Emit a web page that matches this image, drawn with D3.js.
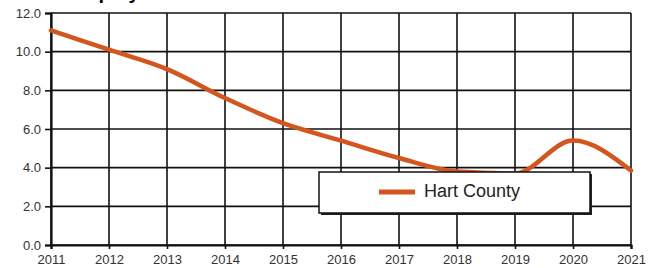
<!DOCTYPE html>
<html>
<head>
    <meta charset="utf-8">
    <style>
        body { margin: 0; background: #fff; }
        svg { display: block; font-family: 'Liberation Sans', Arial, sans-serif; }
    </style>
</head>
<body>
<svg width="652" height="268"></svg>
<script src="https://d3js.org/d3.v7.min.js"></script>
<script>
    // data
    let years = [2011, 2012, 2013, 2014, 2015, 2016, 2017, 2018, 2019, 2020, 2021]
    let hartCounty = [11.1, 10.1, 9.1, 7.6, 6.3, 5.4, 4.5, 3.8, 3.7, 5.4, 3.85]
    let yTicks = [0, 2, 4, 6, 8, 10, 12]
    let seriesName = "Hart County"

    let margin = { left: 51, right: 21, top: 13, bottom: 23 }
    let width = 652, height = 268

    let svg = d3.select("svg")

    let x = d3.scaleLinear()
        .domain([2011, 2021])
        .range([margin.left, width - margin.right])

    let y = d3.scaleLinear()
        .domain([0, 12])
        .range([height - margin.bottom, margin.top])

    // title, cut off at the top like in the source image
    svg.append("text")
        .attr("x", 43)
        .attr("y", -1)
        .style("font-weight", "bold")
        .style("font-size", "20px")
        .text("Unemployment Rate")

    // grid
    svg.append("g")
        .selectAll("line")
        .data(yTicks)
        .join("line")
        .attr("x1", margin.left)
        .attr("x2", width - margin.right)
        .attr("y1", d => y(d))
        .attr("y2", d => y(d))
        .style("stroke", "#111")
        .style("stroke-width", 1.6)

    svg.append("g")
        .selectAll("line")
        .data(years)
        .join("line")
        .attr("x1", d => x(d))
        .attr("x2", d => x(d))
        .attr("y1", y(0))
        .attr("y2", y(12))
        .style("stroke", "#111")
        .style("stroke-width", 1.6)

    // axes
    let yAxis = svg.append("g")
        .attr("transform", "translate(" + margin.left + ",0)")
        .call(d3.axisLeft(y).tickValues(yTicks).tickFormat(d3.format(".1f")).tickSize(6).tickPadding(4))
    let xAxis = svg.append("g")
        .attr("transform", "translate(0," + y(0) + ")")
        .call(d3.axisBottom(x).tickValues(years).tickFormat(d3.format("d")).tickSize(4).tickPadding(6))

    for (let ax of [yAxis, xAxis]) {
        ax.select(".domain").style("stroke", "#111").style("stroke-width", 2.2)
        ax.selectAll(".tick line").style("stroke", "#111").style("stroke-width", 1.6)
        ax.selectAll("text").style("font-size", "13px").style("fill", "#333")
            .style("font-family", "'Liberation Sans', Arial, sans-serif")
    }

    // series line
    let line = d3.line()
        .x((d, i) => x(years[i]))
        .y(d => y(d))
        .curve(d3.curveMonotoneX)

    svg.append("path")
        .datum(hartCounty)
        .attr("d", line)
        .style("fill", "none")
        .style("stroke", "#d4561e")
        .style("stroke-width", 4.5)
        .style("stroke-linecap", "round")

    // legend
    let lg = svg.append("g").attr("transform", "translate(319,172)")
    lg.append("rect")
        .attr("x", 2).attr("y", 2)
        .attr("width", 271).attr("height", 41)
        .style("fill", "#222")
    lg.append("rect")
        .attr("width", 271).attr("height", 41)
        .style("fill", "#fff")
        .style("stroke", "#111")
        .style("stroke-width", 1.5)
    lg.append("line")
        .attr("x1", 60).attr("x2", 96)
        .attr("y1", 20).attr("y2", 20)
        .style("stroke", "#d4561e")
        .style("stroke-width", 5)
    lg.append("text")
        .attr("x", 105).attr("y", 25)
        .style("font-size", "18px")
        .style("fill", "#222")
        .text(seriesName)
</script>
</body>
</html>
